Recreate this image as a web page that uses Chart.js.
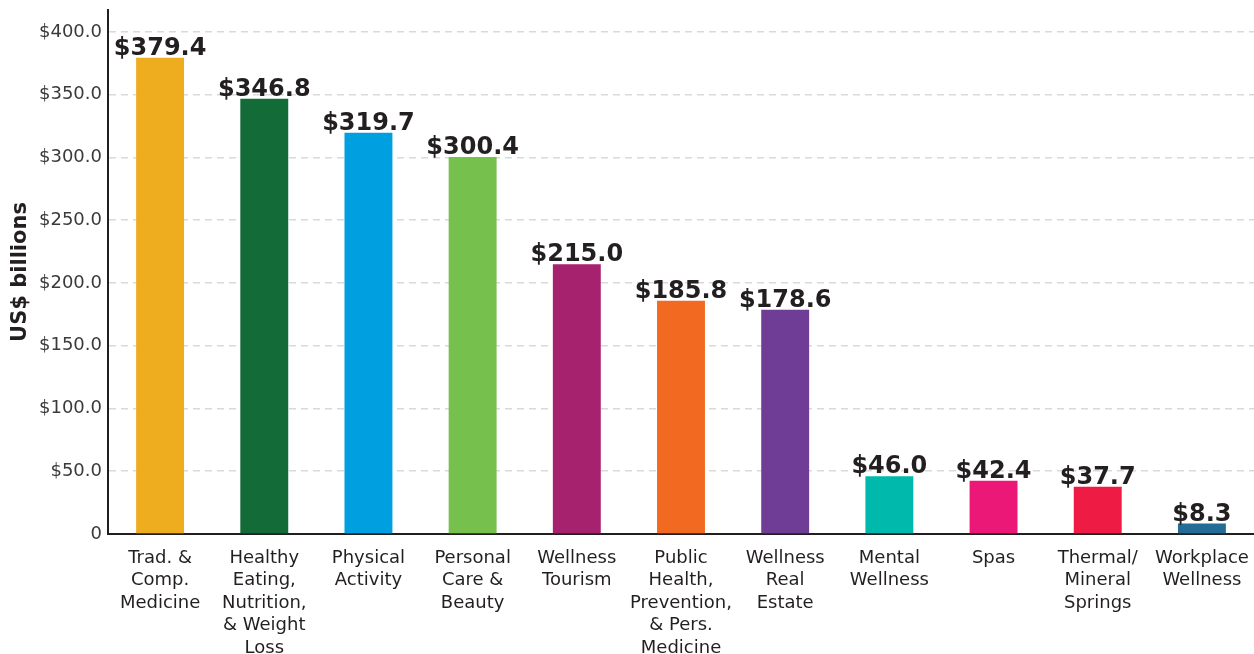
<!DOCTYPE html>
<html>
<head>
<meta charset="utf-8">
<script src="https://cdn.jsdelivr.net/npm/chart.js@4/dist/chart.umd.min.js"></script>
<style>
  html, body { margin: 0; padding: 0; background: #fff; }
  #wrap { width: 1254px; height: 654px; }
</style>
</head>
<body>
<div id="wrap"><canvas id="chart"></canvas></div>
<script>
const categories = [
  ["Trad. &", "Comp.", "Medicine"],
  ["Healthy", "Eating,", "Nutrition,", "& Weight", "Loss"],
  ["Physical", "Activity"],
  ["Personal", "Care &", "Beauty"],
  ["Wellness", "Tourism"],
  ["Public", "Health,", "Prevention,", "& Pers.", "Medicine"],
  ["Wellness", "Real", "Estate"],
  ["Mental", "Wellness"],
  ["Spas"],
  ["Thermal/", "Mineral", "Springs"],
  ["Workplace", "Wellness"]
]
const values = [379.4, 346.8, 319.7, 300.4, 215.0, 185.8, 178.6, 46.0, 42.4, 37.7, 8.3]
const barColors = ["#EEAC1F", "#136B38", "#00A0E0", "#76C04E", "#A6226E", "#F26A22",
  "#6F3D96", "#00B9AD", "#EC1877", "#EE1B45", "#226C96"]
const yTicks = [0, 50, 100, 150, 200, 250, 300, 350, 400]

const FONT = "'DejaVu Sans', sans-serif"

// draws "$379.4" etc above each bar
const valueLabels = {
  id: "valueLabels",
  afterDatasetsDraw(chart) {
    const ctx = chart.ctx
    const meta = chart.getDatasetMeta(0)
    ctx.save()
    ctx.font = "bold 24px " + FONT
    ctx.fillStyle = "#231f20"
    ctx.textAlign = "center"
    ctx.textBaseline = "alphabetic"
    meta.data.forEach((bar, i) => {
      ctx.fillText("$" + values[i].toFixed(1), bar.x, bar.y - 3)
    })
    ctx.restore()
  }
}

const ctx = document.getElementById("chart")
new Chart(ctx, {
  type: "bar",
  data: {
    labels: categories,
    datasets: [{
      data: values,
      backgroundColor: barColors,
      barPercentage: 0.46,
      categoryPercentage: 1
    }]
  },
  options: {
    responsive: true,
    maintainAspectRatio: false,
    animation: false,
    layout: { padding: { top: 10, left: 0, right: 0, bottom: 0 } },
    plugins: {
      legend: { display: false },
      tooltip: { enabled: false }
    },
    scales: {
      x: {
        grid: { display: false },
        border: { display: true, color: "#231f20", width: 2 },
        ticks: {
          color: "#231f20",
          font: { family: FONT, size: 18, lineHeight: 1.25 },
          padding: 5,
          maxRotation: 0,
          autoSkip: false
        },
        afterFit(scale) { scale.height = 120 }
      },
      y: {
        min: 0,
        max: 417.5,
        afterBuildTicks(scale) {
          scale.ticks = yTicks.map(v => ({ value: v }))
        },
        grid: {
          color: "#d9d9d9",
          lineWidth: 1.5,
          drawTicks: false
        },
        border: { display: true, color: "#231f20", width: 2, dash: [7, 5] },
        ticks: {
          color: "#3a3a3a",
          font: { family: FONT, size: 18 },
          padding: 6,
          callback: v => v === 0 ? "0" : "$" + v.toFixed(1)
        },
        title: {
          display: true,
          text: "US$ billions",
          color: "#231f20",
          font: { family: FONT, size: 21, weight: "bold" },
          padding: { top: 8, bottom: 0 }
        },
        afterFit(scale) {
          scale.width = 108
          scale.paddingTop = 0
        }
      }
    }
  },
  plugins: [valueLabels]
})
</script>
</body>
</html>
